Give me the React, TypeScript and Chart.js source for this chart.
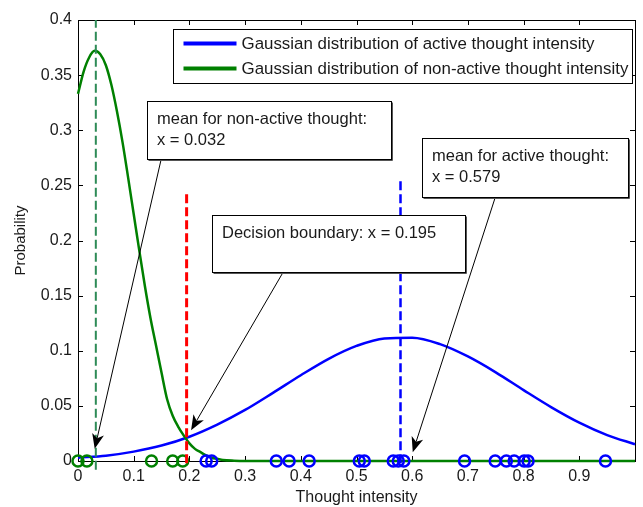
import { useEffect, useRef } from 'react';
import { Chart, registerables } from 'chart.js';

Chart.register(...registerables);

// ---- data ----
const xTickValues = [0, 0.1, 0.2, 0.3, 0.4, 0.5, 0.6, 0.7, 0.8, 0.9, 1];
const yTickValues = [0, 0.05, 0.1, 0.15, 0.2, 0.25, 0.3, 0.35, 0.4];

const activeX = [0, 0.05, 0.1, 0.15, 0.2, 0.25, 0.3, 0.35, 0.4, 0.45, 0.5, 0.55, 0.6, 0.65, 0.7, 0.75, 0.8, 0.85, 0.9, 0.95, 1.0];
const activeY = [0.003, 0.0048, 0.0085, 0.014, 0.022, 0.033, 0.0463, 0.0618, 0.0778, 0.0927, 0.1044, 0.1112, 0.1118, 0.106, 0.0948, 0.0804, 0.0643, 0.0487, 0.0348, 0.0235, 0.0152];

const nonActiveX = [0, 0.01, 0.02, 0.03, 0.04, 0.05, 0.06, 0.07, 0.08, 0.09, 0.1, 0.11, 0.12, 0.13, 0.14, 0.15, 0.16, 0.17, 0.18, 0.19, 0.2, 0.21, 0.22, 0.23, 0.24, 0.25, 0.26, 0.28, 0.3, 0.4, 0.5, 0.6, 0.7, 0.8, 0.9, 1.0];
const nonActiveY = [0.333, 0.353, 0.366, 0.372, 0.369, 0.359, 0.341, 0.317, 0.289, 0.257, 0.224, 0.191, 0.159, 0.130, 0.105, 0.080, 0.056, 0.041, 0.031, 0.023, 0.016, 0.011, 0.008, 0.005, 0.003, 0.002, 0.001, 0.0003, 0, 0, 0, 0, 0, 0, 0, 0];

const activeSamples = [0.230, 0.240, 0.356, 0.379, 0.415, 0.505, 0.514, 0.566, 0.575, 0.585, 0.694, 0.749, 0.769, 0.783, 0.801, 0.808, 0.947];
const nonActiveSamples = [0.0, 0.016, 0.132, 0.170, 0.188];

const nonActiveMean = 0.032;
const activeMean = 0.579;
const decisionBoundary = 0.195;
const nonActiveLineY = [-0.008, 0.4];
const activeLineY = [-0.002, 0.257];
const boundaryLineY = [-0.002, 0.245];

const legendLabels = [
  'Gaussian distribution of active thought intensity',
  'Gaussian distribution of non-active thought intensity',
];
const legendColors = ['#0000ff', '#008000'];

const annotations = [
  { lines: ['mean for non-active thought:', 'x = 0.032'], box: [0.1246, 0.3265, 0.5623, 0.2739], from: [0.149, 0.273], to: [0.030, 0.011] },
  { lines: ['mean for active thought:', 'x = 0.579'], box: [0.6174, 0.2930, 0.9875, 0.2395], from: [0.749, 0.239], to: [0.601, 0.008] },
  { lines: ['Decision boundary: x = 0.195'], box: [0.2402, 0.2231, 0.6940, 0.1714], from: [0.368, 0.171], to: [0.203, 0.028] },
];

const FONT = "'Liberation Sans', Arial, Helvetica, sans-serif";
const TEXT = '#1a1a1a';

const fmt = (v: number) => String(Number(v.toFixed(2)));

const decorPlugin = {
  id: 'decor',
  beforeDatasetsDraw(chart: any) {
    const { ctx, chartArea: a, scales } = chart;
    ctx.save();
    ctx.strokeStyle = '#000';
    ctx.lineWidth = 1;
    ctx.strokeRect(Math.round(a.left) + 0.5, Math.round(a.top) + 0.5, Math.round(a.right - a.left), Math.round(a.bottom - a.top));
    const tl = 5;
    ctx.beginPath();
    xTickValues.forEach((v) => {
      const px = Math.round(scales.x.getPixelForValue(v)) + 0.5;
      ctx.moveTo(px, a.bottom); ctx.lineTo(px, a.bottom - tl);
      ctx.moveTo(px, a.top); ctx.lineTo(px, a.top + tl);
    });
    yTickValues.forEach((v) => {
      const py = Math.round(scales.y.getPixelForValue(v)) + 0.5;
      ctx.moveTo(a.left, py); ctx.lineTo(a.left + tl, py);
      ctx.moveTo(a.right, py); ctx.lineTo(a.right - tl, py);
    });
    ctx.stroke();
    ctx.restore();
  },
  afterDatasetsDraw(chart: any) {
    const { ctx, scales } = chart;
    const X = (v: number) => scales.x.getPixelForValue(v);
    const Y = (v: number) => scales.y.getPixelForValue(v);
    ctx.save();
    // annotations
    annotations.forEach((an) => {
      const x0 = Math.round(X(an.box[0])) + 0.5;
      const y0 = Math.round(Y(an.box[1])) + 0.5;
      const x1 = Math.round(X(an.box[2])) + 0.5;
      const y1 = Math.round(Y(an.box[3])) + 0.5;
      // arrow
      const fx = X(an.from[0]), fy = Y(an.from[1]);
      const tx = X(an.to[0]), ty = Y(an.to[1]);
      const ang = Math.atan2(ty - fy, tx - fx);
      const L = 15, W = 6;
      const bx = tx - L * Math.cos(ang), by = ty - L * Math.sin(ang);
      ctx.strokeStyle = '#000';
      ctx.lineWidth = 1;
      ctx.beginPath();
      ctx.moveTo(fx, fy);
      ctx.lineTo(bx + 4 * Math.cos(ang), by + 4 * Math.sin(ang));
      ctx.stroke();
      const nx = -Math.sin(ang), ny = Math.cos(ang);
      const nxp = tx - (L - 4) * Math.cos(ang), nyp = ty - (L - 4) * Math.sin(ang);
      ctx.fillStyle = '#000';
      ctx.beginPath();
      ctx.moveTo(tx, ty);
      ctx.lineTo(bx + nx * W, by + ny * W);
      ctx.lineTo(nxp, nyp);
      ctx.lineTo(bx - nx * W, by - ny * W);
      ctx.closePath();
      ctx.fill();
      // box
      ctx.fillStyle = '#fff';
      ctx.fillRect(x0, y0, x1 - x0, y1 - y0);
      ctx.strokeStyle = '#000';
      ctx.strokeRect(x0, y0, x1 - x0, y1 - y0);
      ctx.strokeStyle = '#555';
      ctx.beginPath();
      ctx.moveTo(x1 + 1, y0 + 1); ctx.lineTo(x1 + 1, y1 + 1); ctx.lineTo(x0 + 1, y1 + 1);
      ctx.stroke();
      ctx.fillStyle = TEXT;
      ctx.font = `16.5px ${FONT}`;
      ctx.textBaseline = 'alphabetic';
      ctx.textAlign = 'left';
      an.lines.forEach((t, i) => ctx.fillText(t, x0 + 9.5, y0 + 22 + i * 21));
    });
    // legend
    const a = chart.chartArea;
    const lx0 = a.left + 95.5, ly0 = a.top + 9.5, lx1 = a.right - 2.5, ly1 = a.top + 63.5;
    ctx.fillStyle = '#fff';
    ctx.fillRect(lx0, ly0, lx1 - lx0, ly1 - ly0);
    ctx.strokeStyle = '#000';
    ctx.lineWidth = 1;
    ctx.strokeRect(lx0, ly0, lx1 - lx0, ly1 - ly0);
    legendLabels.forEach((label, i) => {
      const yy = ly0 + 14 + i * 25;
      ctx.strokeStyle = legendColors[i];
      ctx.lineWidth = 4;
      ctx.beginPath();
      ctx.moveTo(lx0 + 10, yy); ctx.lineTo(lx0 + 63, yy);
      ctx.stroke();
      ctx.fillStyle = TEXT;
      ctx.font = `16.9px ${FONT}`;
      ctx.textBaseline = 'middle';
      ctx.textAlign = 'left';
      ctx.fillText(label, lx0 + 68, yy + 1);
    });
    ctx.restore();
  },
};

const vline = (x: number, ys: number[], color: string, width: number, dash: number[]) => ({
  data: ys.map((y) => ({ x, y })),
  showLine: true,
  borderColor: color,
  borderWidth: width,
  borderDash: dash,
  pointRadius: 0,
  clip: false,
});

export default function App() {
  const ref = useRef<HTMLCanvasElement>(null);
  useEffect(() => {
    if (!ref.current) return;
    const chart = new Chart(ref.current, {
      type: 'scatter',
      data: {
        datasets: [
          vline(decisionBoundary, boundaryLineY, '#ff0000', 3, [9, 4]),
          vline(nonActiveMean, nonActiveLineY, '#2e8b57', 2, [9, 4]),
          vline(activeMean, activeLineY, '#0000ff', 2.5, [9, 4]),
          {
            data: activeSamples.map((x) => ({ x, y: 0 })),
            pointRadius: 5.5,
            pointBorderWidth: 2.5,
            borderColor: '#0000ff',
            backgroundColor: 'rgba(0,0,0,0)',
            pointBackgroundColor: 'rgba(0,0,0,0)',
            showLine: false,
            clip: false,
          },
          {
            data: nonActiveSamples.map((x) => ({ x, y: 0 })),
            pointRadius: 5.5,
            pointBorderWidth: 2.5,
            borderColor: '#008000',
            backgroundColor: 'rgba(0,0,0,0)',
            pointBackgroundColor: 'rgba(0,0,0,0)',
            showLine: false,
            clip: false,
          },
          {
            data: nonActiveX.map((x, i) => ({ x, y: nonActiveY[i] })),
            showLine: true,
            borderColor: '#008000',
            borderWidth: 2.5,
            pointRadius: 0,
            cubicInterpolationMode: 'monotone',
            clip: false,
          },
          {
            data: activeX.map((x, i) => ({ x, y: activeY[i] })),
            showLine: true,
            borderColor: '#0000ff',
            borderWidth: 2.5,
            pointRadius: 0,
            cubicInterpolationMode: 'monotone',
            clip: false,
          },
        ] as any,
      },
      options: {
        animation: false,
        responsive: false,
        devicePixelRatio: 1,
        layout: { padding: { top: 20, right: 3, left: 0, bottom: 0 } },
        plugins: { legend: { display: false }, tooltip: { enabled: false } },
        scales: {
          x: {
            type: 'linear',
            min: 0,
            max: 1,
            afterFit: (s: any) => { s.height = 46; },
            afterBuildTicks: (s: any) => { s.ticks = xTickValues.map((value) => ({ value })); },
            ticks: {
              callback: (v: any) => (v >= 1 ? '' : fmt(v)),
              font: { size: 16, family: FONT },
              color: TEXT,
              padding: 6,
              maxRotation: 0,
              autoSkip: false,
            },
            grid: { display: false, drawTicks: false },
            border: { display: false },
            title: { display: true, text: 'Thought intensity', font: { size: 16, family: FONT }, color: TEXT, padding: { top: 0, bottom: 0 } },
          },
          y: {
            type: 'linear',
            min: 0,
            max: 0.4,
            afterFit: (s: any) => { s.width = 78; },
            afterBuildTicks: (s: any) => { s.ticks = yTickValues.map((value) => ({ value })); },
            ticks: {
              callback: (v: any) => fmt(v),
              font: { size: 16, family: FONT },
              color: TEXT,
              padding: 6,
              autoSkip: false,
            },
            grid: { display: false, drawTicks: false },
            border: { display: false },
            title: { display: true, text: 'Probability', font: { size: 15, family: FONT }, color: TEXT, padding: { top: 12, bottom: 0 } },
          },
        },
      },
      plugins: [decorPlugin],
    } as any);
    return () => chart.destroy();
  }, []);
  return (
    <div style={{ position: 'absolute', left: 0, top: 0, width: 643, height: 507, background: '#fff' }}>
      <canvas ref={ref} width={643} height={507} style={{ display: 'block' }} />
    </div>
  );
}
